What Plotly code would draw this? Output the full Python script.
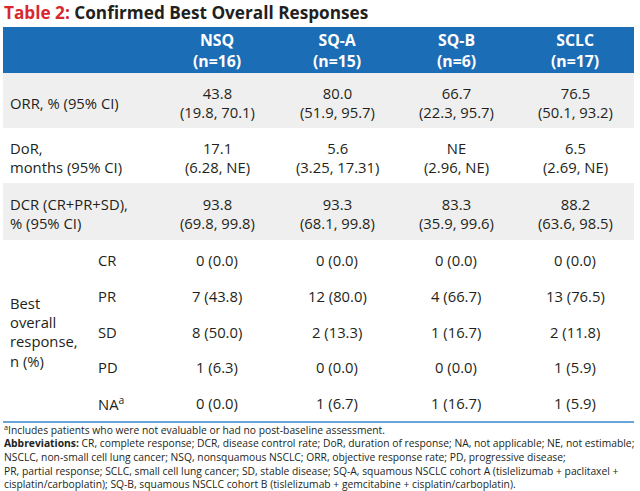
import plotly.graph_objects as go

# ---------------- data ----------------
groups = ["NSQ", "SQ-A", "SQ-B", "SCLC"]
group_n = [16, 15, 6, 17]

stat_labels = ["ORR, % (95% CI)", "DoR,<br>months (95% CI)", "DCR (CR+PR+SD),<br>% (95% CI)"]
orr_est = ["43.8", "80.0", "66.7", "76.5"]
orr_ci = ["(19.8, 70.1)", "(51.9, 95.7)", "(22.3, 95.7)", "(50.1, 93.2)"]
dor_est = ["17.1", "5.6", "NE", "6.5"]
dor_ci = ["(6.28, NE)", "(3.25, 17.31)", "(2.96, NE)", "(2.69, NE)"]
dcr_est = ["93.8", "93.3", "83.3", "88.2"]
dcr_ci = ["(69.8, 99.8)", "(68.1, 99.8)", "(35.9, 99.6)", "(63.6, 98.5)"]

resp_labels = ["CR", "PR", "SD", "PD", "NA<sup>a</sup>"]
cr_n = [0, 0, 0, 0]
cr_pct = [0.0, 0.0, 0.0, 0.0]
pr_n = [7, 12, 4, 13]
pr_pct = [43.8, 80.0, 66.7, 76.5]
sd_n = [8, 2, 1, 2]
sd_pct = [50.0, 13.3, 16.7, 11.8]
pd_n = [1, 0, 0, 1]
pd_pct = [6.3, 0.0, 0.0, 5.9]
na_n = [0, 1, 1, 1]
na_pct = [0.0, 6.7, 16.7, 5.9]

footnotes = [
    "<sup>a</sup>Includes patients who were not evaluable or had no post-baseline assessment.",
    "<b>Abbreviations:</b> CR, complete response; DCR, disease control rate; DoR, duration of response; NA, not applicable; NE, not estimable;",
    "NSCLC, non-small cell lung cancer; NSQ, nonsquamous NSCLC; ORR, objective response rate; PD, progressive disease;",
    "PR, partial response; SCLC, small cell lung cancer; SD, stable disease; SQ-A, squamous NSCLC cohort A (tislelizumab + paclitaxel +",
    "cisplatin/carboplatin); SQ-B, squamous NSCLC cohort B (tislelizumab + gemcitabine + cisplatin/carboplatin).",
]

# ---------------- layout constants ----------------
W, H = 640, 491
FONT = "Open Sans"
TXT = "#231f20"
BLUE = "#1b6db6"
GRAY = "#f0efef"
X0, X1 = 3, 634
col_x = [217, 337, 456, 575]
HDR = (27, 73)
stat_rows = [(73, 128), (128, 183), (183, 240)]
stat_fill = [GRAY, "white", GRAY]
resp_y = [260, 296, 332, 367, 403]
BOTTOM = 422

fig = go.Figure()
fig.add_trace(go.Scatter(x=[0], y=[0], mode="markers", marker=dict(opacity=0), hoverinfo="skip", showlegend=False))

shapes = []
ann = []

def text(x, y, s, size=14.8, color=TXT, xanchor="center", align="center", family=FONT):
    ann.append(dict(x=x, y=y, xref="x", yref="y", text=s, showarrow=False,
                    xanchor=xanchor, yanchor="middle", align=align,
                    font=dict(family=family, size=size, color=color)))

# title
text(X0 - 1, 12, "<b><span style='color:#d7282f'>Table 2:</span> Confirmed Best Overall Responses</b>",
     size=17.2, xanchor="left", align="left")

# header
shapes.append(dict(type="rect", xref="x", yref="y", x0=X0, x1=X1, y0=HDR[0], y1=HDR[1],
                   fillcolor=BLUE, line=dict(width=0), layer="below"))
for g, n, cx in zip(groups, group_n, col_x):
    text(cx, (HDR[0] + HDR[1]) / 2, f"<b>{g}<br>(n={n})</b>", size=15.8, color="white")

# stat rows
stat_est = [orr_est, dor_est, dcr_est]
stat_ci = [orr_ci, dor_ci, dcr_ci]
for (y0, y1), fill, lab, est, ci in zip(stat_rows, stat_fill, stat_labels, stat_est, stat_ci):
    shapes.append(dict(type="rect", xref="x", yref="y", x0=X0, x1=X1, y0=y0, y1=y1,
                       fillcolor=fill, line=dict(width=0), layer="below"))
    ym = (y0 + y1) / 2 + 2
    text(8, ym, lab, xanchor="left", align="left")
    for cx, e, c in zip(col_x, est, ci):
        text(cx, ym, f"{e}<br>{c}")

# response rows
resp_n = [cr_n, pr_n, sd_n, pd_n, na_n]
resp_pct = [cr_pct, pr_pct, sd_pct, pd_pct, na_pct]
text(8, 332, "Best<br>overall<br>response,<br>n (%)", xanchor="left", align="left")
for y, lab, ns, ps in zip(resp_y, resp_labels, resp_n, resp_pct):
    text(96, y, lab, xanchor="left", align="left")
    for cx, n, p in zip(col_x, ns, ps):
        text(cx, y, f"{n} ({p:.1f})")

shapes.append(dict(type="line", xref="x", yref="y", x0=X0, x1=X1, y0=BOTTOM, y1=BOTTOM,
                   line=dict(color="#3a86c8", width=1.5)))

# footnotes
fy = [429, 443, 457, 471, 484]
for y, s in zip(fy, footnotes):
    text(X0 - 1, y, s, size=10.3, xanchor="left", align="left")

fig.update_layout(
    width=W, height=H, margin=dict(l=0, r=0, t=0, b=0),
    paper_bgcolor="white", plot_bgcolor="white",
    xaxis=dict(range=[0, W], visible=False, fixedrange=True),
    yaxis=dict(range=[H, 0], visible=False, fixedrange=True),
    shapes=shapes, annotations=ann, showlegend=False,
)
fig.write_html("out.html", config={"displayModeBar": False},
               post_script="document.body.style.margin='0';document.body.style.overflow='hidden';")
